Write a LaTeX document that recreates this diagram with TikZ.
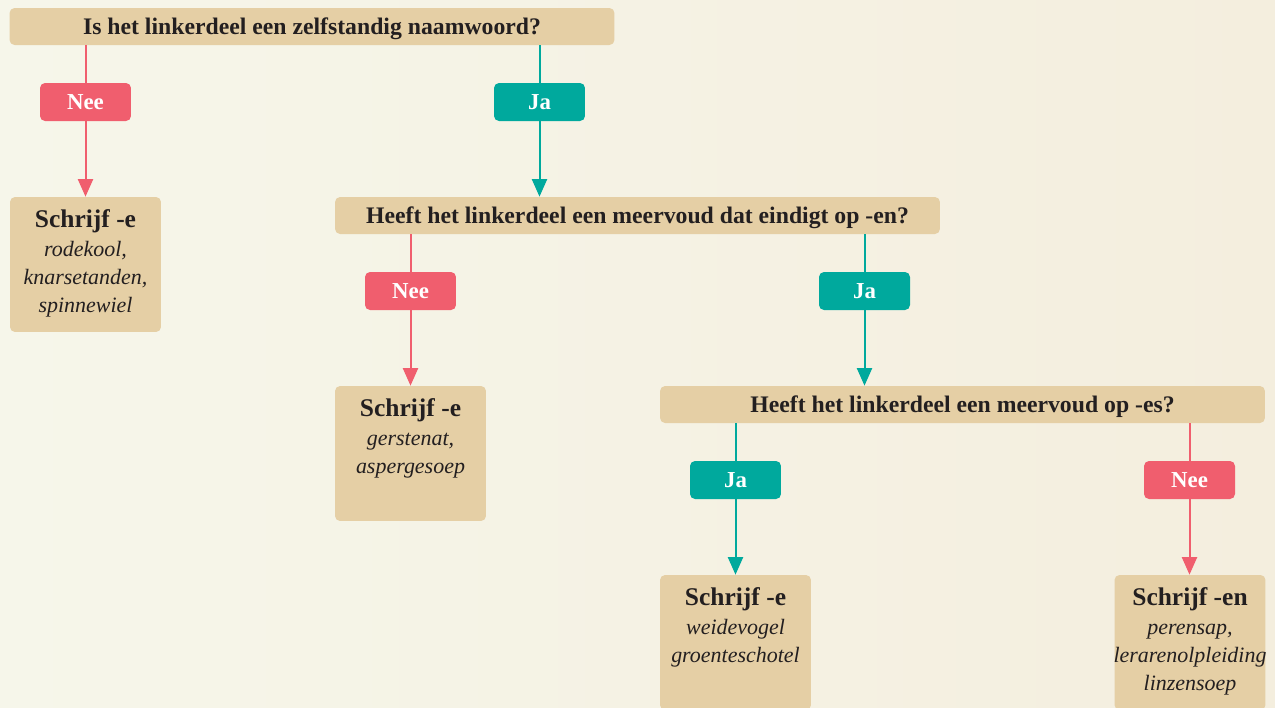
\documentclass[tikz,border=0pt]{standalone}
\usepackage{fontspec}
\setmainfont{Liberation Serif}
\usetikzlibrary{arrows.meta}

\definecolor{bgcream}{RGB}{246,246,234}
\definecolor{bgwarm}{RGB}{244,238,222}
\definecolor{boxtan}{RGB}{229,207,165}
\definecolor{neered}{RGB}{240,94,110}
\definecolor{jateal}{RGB}{0,169,157}
\definecolor{inkdark}{RGB}{35,31,32}

\tikzset{
  question/.style={fill=boxtan, rounded corners=0.1cm, minimum width=12.1cm,
    minimum height=0.74cm, inner sep=0, text=inkdark, text depth=0pt,
    font=\bfseries\fontsize{13.5}{16}\selectfont},
  answer/.style={rounded corners=0.1cm, minimum width=1.82cm, minimum height=0.76cm,
    inner sep=0, text=white, text depth=0pt, font=\bfseries\fontsize{13}{16}\selectfont},
  nee/.style={answer, fill=neered},
  ja/.style={answer, fill=jateal},
  result/.style={fill=boxtan, rounded corners=0.1cm, minimum width=3.02cm,
    minimum height=2.7cm, inner sep=0},
  resulttext/.style={anchor=north, yshift=-0.26cm, align=center, inner sep=0,
    text=inkdark, font=\fontsize{12.5}{16}\selectfont},
  neeline/.style={draw=neered, line width=0.04cm},
  jaline/.style={draw=jateal, line width=0.04cm},
}

\begin{document}
\begin{tikzpicture}[x=0.02cm, y=-0.02cm, >={Triangle[width=0.3cm,length=0.35cm]}]
\useasboundingbox (0,0) rectangle (1275,707);
\shade[left color=bgcream, right color=bgwarm] (0,0) rectangle (1275,707);
\clip (0,0) rectangle (1275,707);

% questions
\node[question] (q1) at (312,26.5) {Is het linkerdeel een zelfstandig naamwoord?};
\node[question] (q2) at (637.5,215.5) {Heeft het linkerdeel een meervoud dat eindigt op -en?};
\node[question] (q3) at (962.5,404.5) {Heeft het linkerdeel een meervoud op -es?};

% answers
\node[nee] (nee1) at (85.5,102) {Nee};
\node[ja] (ja1) at (539.5,102) {Ja};
\node[nee] (nee2) at (410.5,291) {Nee};
\node[ja] (ja2) at (864.5,291) {Ja};
\node[ja] (ja3) at (735.5,480) {Ja};
\node[nee] (nee3) at (1189.5,480) {Nee};

% results
\node[result] (r1) at (85.5,264.5) {};
\node[result] (r2) at (410.5,453.5) {};
\node[result] (r3) at (735.5,642.5) {};
\node[result] (r4) at (1190,642.5) {};
\node[resulttext] (t1) at (r1.north) {{\bfseries\fontsize{14.5}{16}\selectfont Schrijf -e}\\ \itshape rodekool,\\ \itshape knarsetanden,\\ \itshape spinnewiel};
\node[resulttext] (t2) at (r2.north) {{\bfseries\fontsize{14.5}{16}\selectfont Schrijf -e}\\ \itshape gerstenat,\\ \itshape aspergesoep};
\node[resulttext] (t3) at (r3.north) {{\bfseries\fontsize{14.5}{16}\selectfont Schrijf -e}\\ \itshape weidevogel\\ \itshape groenteschotel};
\node[resulttext] (t4) at (r4.north) {{\bfseries\fontsize{14.5}{16}\selectfont Schrijf -en}\\ \itshape perensap,\\ \itshape lerarenolpleiding\\ \itshape linzensoep};

% connectors
\draw[neeline] (nee1 |- q1.south) -- (nee1.north);
\draw[neeline,->] (nee1.south) -- (nee1 |- r1.north);
\draw[jaline] (ja1 |- q1.south) -- (ja1.north);
\draw[jaline,->] (ja1.south) -- (ja1 |- q2.north);
\draw[neeline] (nee2 |- q2.south) -- (nee2.north);
\draw[neeline,->] (nee2.south) -- (nee2 |- r2.north);
\draw[jaline] (ja2 |- q2.south) -- (ja2.north);
\draw[jaline,->] (ja2.south) -- (ja2 |- q3.north);
\draw[jaline] (ja3 |- q3.south) -- (ja3.north);
\draw[jaline,->] (ja3.south) -- (ja3 |- r3.north);
\draw[neeline] (nee3 |- q3.south) -- (nee3.north);
\draw[neeline,->] (nee3.south) -- (nee3 |- r4.north);
\end{tikzpicture}
\end{document}
